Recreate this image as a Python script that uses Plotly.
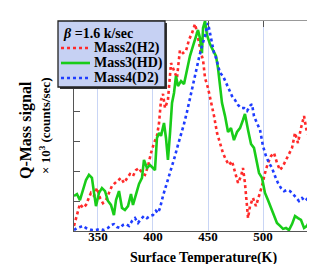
import plotly.graph_objects as go

# Mass2 (H2)
t_h2 = [328.2, 330.0, 331.8, 333.6, 336.4, 339.1, 340.9, 343.6, 346.4, 349.1, 351.8, 354.5, 357.3, 360.0,
        362.7, 365.5, 368.2, 370.9, 373.6, 376.4, 379.1, 381.8, 384.5, 387.3, 390.0, 392.7, 395.5, 398.2,
        400.9, 403.6, 405.5, 407.3, 409.1, 410.9, 413.6, 416.4, 419.1, 421.8, 424.5, 427.3, 430.0, 432.7,
        435.5, 438.2, 440.0, 441.8, 443.6, 445.5, 447.3, 450.0, 452.7, 455.5, 458.2, 460.9, 463.6, 466.4,
        469.1, 471.8, 474.5, 477.3, 480.0, 481.8, 483.6, 485.5, 486.4, 488.2, 490.9, 493.6, 496.4, 499.1,
        501.8, 504.5, 507.3, 510.0, 512.7, 515.5, 518.2, 520.9, 523.6, 526.4, 529.1, 531.8, 534.5, 537.3,
        540.0, 542.7, 545.5, 548.2, 550.0]
s_h2 = [0.17, 0.43, 0.60, 0.90, 0.77, 0.87, 1.03, 1.27, 1.17, 1.43, 1.10, 0.93, 1.03, 1.27,
        1.50, 1.60, 1.70, 1.77, 1.60, 1.77, 1.90, 1.83, 2.03, 2.10, 1.93, 1.87, 2.17, 2.60,
        2.93, 3.17, 3.60, 4.37, 4.57, 4.10, 4.37, 5.60, 5.37, 5.10, 6.03, 5.93, 6.00, 6.37,
        6.60, 6.90, 6.63, 6.27, 5.93, 5.70, 5.10, 4.77, 4.33, 3.83, 3.27, 2.93, 2.60, 2.37,
        2.20, 2.33, 1.93, 1.60, 1.83, 2.10, 1.60, 0.77, 0.43, 0.83, 1.10, 0.83, 1.17, 1.50,
        1.93, 2.27, 2.50, 2.60, 2.27, 2.03, 2.17, 2.37, 2.57, 2.77, 3.27, 2.93, 3.43, 3.83,
        3.27, 3.17, 3.43, 3.50, 3.17]

# Mass3 (HD)
t_hd = [328.2, 330.9, 333.6, 336.4, 339.1, 341.8, 344.5, 346.4, 348.2, 350.9, 353.6, 356.4, 359.1, 361.8,
        364.5, 366.4, 369.1, 371.8, 374.5, 377.3, 380.0, 381.8, 384.5, 387.3, 390.0, 391.8, 394.5, 397.3,
        400.0, 401.8, 403.6, 405.5, 407.3, 410.0, 411.8, 413.6, 415.5, 417.3, 419.1, 420.9, 422.7, 425.5,
        428.2, 430.9, 433.6, 436.4, 439.1, 440.9, 442.7, 444.5, 445.5, 447.3, 449.1, 451.8, 454.5, 457.3,
        459.1, 460.9, 462.7, 465.5, 468.2, 470.9, 473.6, 476.4, 479.1, 481.8, 483.6, 486.4, 489.1, 491.8,
        494.5, 496.4, 499.1, 501.8, 504.5, 507.3, 510.0, 512.7, 515.5, 518.2, 520.9, 523.6, 526.4, 529.1,
        531.8, 534.5, 537.3, 540.0, 542.7, 545.5, 548.2, 550.9]
s_hd = [1.17, 1.23, 1.03, 1.37, 1.70, 1.87, 1.77, 1.27, 0.83, 1.27, 1.43, 1.33, 1.00, 0.87,
        0.53, 1.03, 1.33, 0.77, 0.70, 0.83, 1.23, 0.87, 1.20, 1.57, 1.77, 2.37, 2.10, 2.20,
        2.10, 2.03, 3.10, 3.27, 3.17, 3.60, 3.10, 2.37, 3.27, 4.27, 4.60, 5.17, 4.83, 5.00,
        4.90, 5.37, 5.83, 6.17, 6.50, 6.70, 6.43, 5.93, 6.77, 7.00, 6.53, 6.23, 6.03, 5.83,
        5.43, 4.87, 4.27, 3.83, 3.30, 3.43, 3.03, 3.30, 3.43, 3.70, 3.90, 3.37, 2.90, 2.77,
        2.27, 1.93, 1.77, 1.27, 1.03, 0.77, 0.53, 0.27, 0.17, 0.07, 0.10, 0.03, 0.23, 0.50,
        0.43, 0.37, 0.10, 0.17, 0.37, 0.17, 0.37, 0.23]

# Mass4 (D2)
t_d2 = [328.2, 330.9, 333.6, 336.4, 339.1, 341.8, 344.5, 348.2, 351.8, 355.5, 359.1, 361.8, 364.5, 367.3,
        370.0, 372.7, 375.5, 378.2, 380.9, 383.6, 386.4, 389.1, 391.8, 394.5, 397.3, 400.0, 402.7, 404.5,
        406.4, 409.1, 411.8, 414.5, 417.3, 420.0, 422.7, 425.5, 428.2, 430.9, 433.6, 436.4, 439.1, 441.8,
        444.5, 447.3, 450.0, 451.8, 453.6, 455.5, 457.3, 459.1, 460.9, 463.6, 466.4, 469.1, 471.8, 474.5,
        477.3, 480.0, 482.7, 485.5, 488.2, 490.0, 491.8, 494.5, 497.3, 500.0, 502.7, 505.5, 508.2, 510.9,
        513.6, 516.4, 519.1, 521.8, 524.5, 527.3, 530.0, 532.7, 535.5, 538.2, 540.9, 543.6, 546.4, 549.1]
s_d2 = [0.03, 0.10, 0.13, 0.17, 0.10, 0.07, 0.03, 0.03, 0.07, 0.03, 0.10, 0.20, 0.23, 0.13,
        0.10, 0.20, 0.23, 0.17, 0.33, 0.43, 0.27, 0.40, 0.50, 0.43, 0.50, 0.53, 0.67, 0.60,
        0.77, 1.17, 1.50, 1.77, 2.17, 2.50, 2.87, 3.20, 3.57, 3.97, 4.43, 4.93, 5.37, 5.77,
        6.17, 6.50, 6.93, 6.60, 6.17, 5.93, 5.77, 5.50, 5.27, 5.17, 4.93, 4.67, 4.50, 4.37,
        4.20, 4.10, 4.10, 4.00, 4.17, 4.23, 3.83, 3.60, 3.37, 2.83, 2.50, 2.27, 2.10, 1.83,
        1.60, 1.43, 1.33, 1.37, 1.33, 1.23, 1.10, 1.00, 1.10, 1.00, 1.10, 1.03, 1.00, 0.93]

x_ticks = [350, 400, 450, 500, 550]
left_ticks = [1, 2, 3, 4, 5, 6]
right_ticks = [1.3, 2.57, 3.8, 5.07, 6.33]

series_names = ["Mass2(H2)", "Mass3(HD)", "Mass4(D2)"]
legend_title = "<i>β</i> =1.6 k/sec"

SERIF = "Liberation Serif, Times New Roman, Times, serif"
RED = "#ff2a2a"
GREEN = "#19cc19"
BLUE = "#1f3dff"
colors = [RED, GREEN, BLUE]
dashes = ["dot", "solid", "dot"]

W, H = 315, 264
ML, MR, MT, MB = 66, 4, 13, 41
PW, PH = W - ML - MR, H - MT - MB


def px(xp):
    return (xp - ML) / PW


def py(yp):
    return (H - MB - yp) / PH


fig = go.Figure()
for t, s, name, c, d in zip([t_h2, t_hd, t_d2], [s_h2, s_hd, s_d2], series_names, colors, dashes):
    fig.add_trace(go.Scatter(x=t, y=s, mode="lines", name=name, showlegend=False,
                             line=dict(color=c, width=2.6, dash=d)))
# helper trace so the top / right axes are drawn
fig.add_trace(go.Scatter(x=[x_ticks[0]], y=[0], xaxis="x2", yaxis="y2", mode="markers",
                         marker=dict(opacity=0), showlegend=False, hoverinfo="skip"))

shapes = [
    # legend shadow and box
    dict(type="rect", xref="paper", yref="paper", x0=px(52), x1=px(159), y0=py(81), y1=py(15),
         fillcolor="#333333", line=dict(width=0), layer="above"),
    dict(type="rect", xref="paper", yref="paper", x0=px(50), x1=px(157), y0=py(79), y1=py(13),
         fillcolor="#c6d1f3", line=dict(color="#222222", width=1.3), layer="above"),
]
annotations = [
    dict(text="<b>" + legend_title + "</b>", xref="paper", yref="paper", x=px(53), y=py(25),
         xanchor="left", yanchor="middle", showarrow=False,
         font=dict(family=SERIF, size=14, color="black")),
]
rows = [40, 55, 70]
for name, c, d, r in zip(series_names, colors, dashes, rows):
    shapes.append(dict(type="line", xref="paper", yref="paper", x0=px(53), x1=px(82), y0=py(r), y1=py(r),
                       line=dict(color=c, width=2.6, dash=d), layer="above"))
    annotations.append(dict(text="<b>" + name + "</b>", xref="paper", yref="paper", x=px(84), y=py(r),
                            xanchor="left", yanchor="middle", showarrow=False,
                            font=dict(family=SERIF, size=14, color="black")))

annotations += [
    dict(text="<b>Q-Mass signal</b>", xref="paper", yref="paper", x=px(18), y=py(122),
         xanchor="center", yanchor="middle", textangle=-90, showarrow=False,
         font=dict(family=SERIF, size=16, color="black")),
    dict(text="<b>× 10<sup>3</sup> (counts/sec)</b>", xref="paper", yref="paper", x=px(37), y=py(118),
         xanchor="center", yanchor="middle", textangle=-90, showarrow=False,
         font=dict(family=SERIF, size=13, color="black")),
    dict(text="<b>Surface Temperature(K)</b>", xref="paper", yref="paper", x=px(195), y=py(260),
         xanchor="center", yanchor="bottom", showarrow=False,
         font=dict(family=SERIF, size=14, color="black")),
]

fig.update_layout(
    width=W, height=H,
    margin=dict(l=ML, r=MR, t=MT, b=MB),
    paper_bgcolor="white", plot_bgcolor="white",
    showlegend=False,
    xaxis=dict(
        range=[328.2, 550.9], tickvals=x_ticks, ticktext=["<b>%d</b>" % v for v in x_ticks],
        showgrid=True, gridcolor="#c9d5f5", gridwidth=1,
        showline=True, linecolor="#555555", linewidth=1.2,
        ticks="", zeroline=False, ticklabelstandoff=-7,
        tickfont=dict(family=SERIF, size=13, color="black"),
    ),
    xaxis2=dict(
        range=[328.2, 550.9], overlaying="x", side="top", tickvals=x_ticks,
        showticklabels=False, ticks="inside", ticklen=6, tickcolor="#555555",
        showline=True, linecolor="#999999", linewidth=1.2, showgrid=False, zeroline=False,
    ),
    yaxis=dict(
        range=[0, 7.0], tickvals=left_ticks, showticklabels=False,
        ticks="inside", ticklen=6, tickcolor="#555555",
        showline=True, linecolor="#555555", linewidth=1.2, showgrid=False, zeroline=False,
    ),
    yaxis2=dict(
        range=[0, 7.0], overlaying="y", side="right", tickvals=right_ticks, showticklabels=False,
        ticks="inside", ticklen=6, tickcolor="#555555",
        showline=True, linecolor="#999999", linewidth=1.2, showgrid=False, zeroline=False,
    ),
    shapes=shapes,
    annotations=annotations,
)

fig.write_html("out.html")
